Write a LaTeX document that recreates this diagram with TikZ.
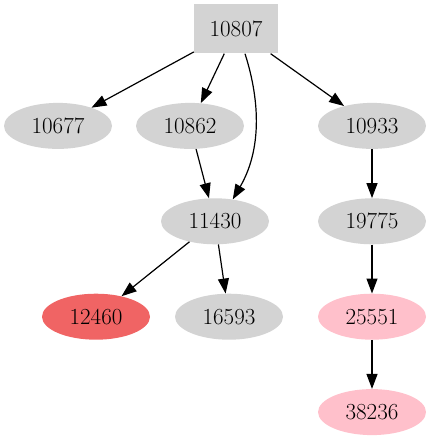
\documentclass[tikz,border=0pt]{standalone}
\usetikzlibrary{shapes.geometric, arrows.meta, positioning}

\definecolor{nodegray}{RGB}{211,211,211}
\definecolor{nodepink}{RGB}{255,192,203}
\definecolor{nodered}{RGB}{240,100,100}

\begin{document}
\begin{tikzpicture}[
    x=1pt, y=1pt,
    node distance=49pt,
    idbox/.style={
      rectangle,
      minimum width=84pt,
      minimum height=49pt,
      fill=nodegray,
      font=\fontsize{23}{27}\selectfont
    },
    leaf/.style={
      ellipse,
      inner sep=0pt,
      minimum width=108pt,
      minimum height=46pt,
      fill=nodegray,
      font=\fontsize{23}{27}\selectfont
    },
    hot/.style={
      leaf,
      fill=nodered
    },
    warm/.style={
      leaf,
      fill=nodepink
    },
    arrow/.style={
      -{Triangle[length=15pt, width=11pt]},
      line width=1.2pt
    }
  ]

  \useasboundingbox (0,0) rectangle (431,-443);

  % Nodes
  \node[idbox] (n10807) at (236,-29) {10807};
  \node[leaf, below=of n10807, xshift=-178pt] (n10677) {10677};
  \node[leaf, below=of n10807, xshift=-46pt] (n10862) {10862};
  \node[leaf, below=of n10807, xshift=136pt] (n10933) {10933};
  \node[leaf, below=of n10862, xshift=25pt] (n11430) {11430};
  \node[leaf, below=of n10933] (n19775) {19775};
  \node[hot, below=of n11430, xshift=-119pt] (n12460) {12460};
  \node[leaf, below=of n11430, xshift=14pt] (n16593) {16593};
  \node[warm, below=of n19775] (n25551) {25551};
  \node[warm, below=of n25551] (n38236) {38236};

  % Edges
  \draw[arrow] (n10807) -- (n10677);
  \draw[arrow] (n10807) -- (n10862);
  \draw[arrow] (n10807.-70) .. controls +(16,-50) and +(28,48) .. (n11430.51);
  \draw[arrow] (n10807) -- (n10933);
  \draw[arrow] (n10862) -- (n11430);
  \draw[arrow] (n10933) -- (n19775);
  \draw[arrow] (n11430) -- (n12460);
  \draw[arrow] (n11430) -- (n16593);
  \draw[arrow] (n19775) -- (n25551);
  \draw[arrow] (n25551) -- (n38236);

\end{tikzpicture}
\end{document}
